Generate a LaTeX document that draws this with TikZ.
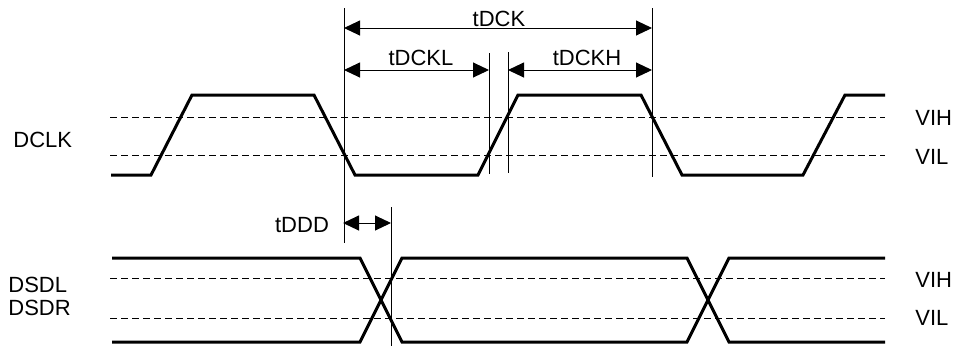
\documentclass[tikz,border=0pt]{standalone}
\usepackage{fontspec}
\setmainfont{Liberation Sans}
\usetikzlibrary{arrows.meta}

\begin{document}
\begin{tikzpicture}[x=0.5pt, y=-0.5pt,
    sig/.style={line width=1.5pt, line join=miter},
    lvl/.style={line width=0.5pt, dash pattern=on 3.5pt off 2pt},
    guide/.style={line width=0.5pt},
    dim/.style={line width=0.5pt,
      {Triangle[length=8pt,width=7.5pt]}-{Triangle[length=8pt,width=7.5pt]}},
    lbl/.style={font=\fontsize{11}{13}\selectfont, inner sep=0pt}]
      \useasboundingbox (0,0) rectangle (956,350);

      \foreach \y in {117,155,278,318}
        \draw[lvl] (110,\y) -- (885,\y);

      \draw[sig] (111,175) -- (151,175) -- (192,95) -- (314,95) -- (355,175)
        -- (478,175) -- (518,95) -- (641,95) -- (682,175) -- (803,175)
        -- (845,95) -- (885,95);
      \draw[sig] (112,258) -- (360,258) -- (402,342) -- (687,342) -- (729,258) -- (885,258);
      \draw[sig] (112,342) -- (360,342) -- (402,258) -- (687,258) -- (729,342) -- (885,342);

      \draw[guide] (344,8) -- (344,243);
      \draw[guide] (489,53) -- (489,174);
      \draw[guide] (508,52) -- (508,173);
      \draw[guide] (652,8) -- (652,177);
      \draw[guide] (391,207) -- (391,346);

      \coordinate (ck-l) at (344,28);  \coordinate (ck-r) at (652,28);
      \coordinate (lo-l) at (344,70);  \coordinate (lo-r) at (489,70);
      \coordinate (hi-l) at (508,70);  \coordinate (hi-r) at (652,70);
      \coordinate (dd-l) at (343,223); \coordinate (dd-r) at (391,223);
      \path[dim] (ck-l) edge (ck-r);
      \path[dim] (lo-l) edge (lo-r);
      \path[dim] (hi-l) edge (hi-r);
      \path[dim] (dd-l) edge (dd-r);

      \node[lbl] (tdck)  at (499,19)  {tDCK};
      \node[lbl] (tdckl) at (421,58)  {tDCKL};
      \node[lbl] (tdckh) at (587,58)  {tDCKH};
      \node[lbl] (tddd)  at (302,225) {tDDD};

      \node[lbl, anchor=west] (dclk) at (13,140)  {DCLK};
      \node[lbl, anchor=west] (dsdl) at (8,285)   {DSDL};
      \node[lbl, anchor=west] (dsdr) at (8,308)   {DSDR};
      \node[lbl, anchor=west] (vih1) at (915,118) {VIH};
      \node[lbl, anchor=west] (vil1) at (915,157) {VIL};
      \node[lbl, anchor=west] (vih2) at (915,280) {VIH};
      \node[lbl, anchor=west] (vil2) at (915,318) {VIL};
    \end{tikzpicture}
\end{document}
